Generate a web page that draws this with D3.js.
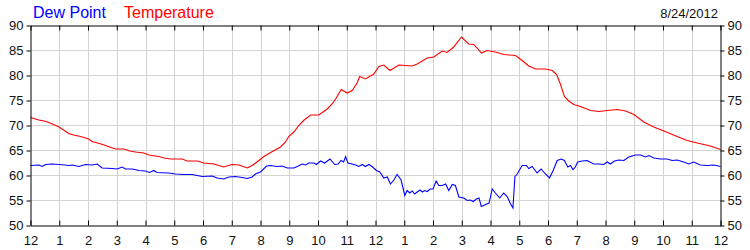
<!DOCTYPE html>
<html><head><meta charset="utf-8">
<script src="https://cdn.jsdelivr.net/npm/d3@7/dist/d3.min.js"></script>
<style>
html,body{margin:0;padding:0;background:#fff;}
svg{display:block;font-family:"Liberation Sans",Arial,sans-serif;}
</style></head>
<body><svg id="c" width="750" height="250"></svg>
<script>
const seriesNames = ["Dew Point", "Temperature"];
const dateLabel = "8/24/2012";
const hourTickLabels = ["12","1","2","3","4","5","6","7","8","9","10","11","12","1","2","3","4","5","6","7","8","9","10","11","12"];
const yTicks = [50,55,60,65,70,75,80,85,90];

const tempHours = [0,0.29,0.55,0.8,0.99,1.15,1.33,1.5,1.74,2.03,2.14,2.4,2.61,2.8,2.96,3.25,3.45,3.65,3.94,4.12,4.46,4.65,4.87,5.28,5.45,5.8,6.03,6.38,6.55,6.72,6.88,7.01,7.25,7.4,7.54,7.71,7.88,8.12,8.35,8.7,8.87,8.98,9.16,9.33,9.5,9.74,10.03,10.32,10.49,10.61,10.81,11.01,11.19,11.36,11.45,11.65,11.94,12.12,12.29,12.5,12.81,13.28,13.45,13.8,14.03,14.32,14.49,14.72,14.99,15.24,15.42,15.69,15.88,16.17,16.46,16.87,17.1,17.33,17.57,17.91,18.15,18.3,18.43,18.57,18.72,18.9,19.13,19.48,19.77,20.06,20.41,20.7,20.99,21.33,21.68,22.03,22.49,22.84,23.19,23.65,24];
const tempValues = [71.6,71.1,70.8,70.2,69.7,69.1,68.4,68.1,67.8,67.3,66.8,66.4,66.0,65.6,65.3,65.3,64.9,64.7,64.5,64.1,63.8,63.5,63.3,63.3,62.9,62.9,62.5,62.3,62.0,61.7,62.0,62.2,62.1,61.8,61.5,62.0,62.7,63.8,64.6,65.7,66.7,67.8,68.7,70.0,71.0,72.1,72.1,73.3,74.3,75.3,77.2,76.5,77.0,78.5,79.8,79.3,80.3,81.8,82.1,81.0,82.1,81.9,82.3,83.5,83.7,84.9,84.6,85.7,87.7,86.3,86.2,84.5,85.0,84.7,84.2,84.0,83.0,81.9,81.3,81.3,81.0,80.2,78.3,75.8,74.9,74.2,73.8,73.0,72.8,73.0,73.2,72.9,72.2,70.7,69.7,68.9,67.8,67.0,66.5,65.9,65.2];

const dewHours = [0,0.29,0.41,0.52,0.75,0.99,1.2,1.33,1.45,1.68,1.91,2.14,2.32,2.49,2.84,3.01,3.19,3.3,3.54,3.77,4.0,4.14,4.29,4.4,4.81,5.04,5.33,5.62,5.97,6.32,6.49,6.72,6.9,7.13,7.36,7.54,7.71,7.82,8.0,8.21,8.35,8.58,8.75,8.93,9.16,9.28,9.45,9.57,9.68,9.86,9.94,10.09,10.23,10.42,10.58,10.7,10.8,10.89,10.96,11.04,11.19,11.31,11.42,11.54,11.65,11.77,11.88,12.03,12.15,12.29,12.41,12.52,12.64,12.75,12.89,13.02,13.1,13.19,13.28,13.36,13.45,13.55,13.63,13.71,13.8,13.9,14.0,14.11,14.2,14.32,14.44,14.55,14.67,14.78,14.9,15.07,15.19,15.3,15.4,15.51,15.6,15.68,15.83,15.95,16.06,16.17,16.32,16.46,16.58,16.7,16.78,16.85,16.93,17.1,17.25,17.33,17.45,17.62,17.76,17.88,18.05,18.18,18.32,18.46,18.57,18.69,18.78,18.87,18.95,19.03,19.19,19.36,19.59,19.77,19.94,20.06,20.17,20.31,20.46,20.64,20.81,21.04,21.22,21.39,21.51,21.68,21.91,22.14,22.32,22.49,22.72,22.9,23.07,23.3,23.54,23.77,24];
const dewValues = [62.0,62.1,61.8,62.2,62.3,62.2,62.1,62.0,62.1,61.8,62.2,62.1,62.3,61.5,61.4,61.3,61.7,61.3,61.3,61.0,60.9,60.6,61.0,60.6,60.5,60.3,60.2,60.2,59.8,59.9,59.5,59.3,59.7,59.8,59.6,59.4,59.7,60.3,60.7,61.9,62.0,61.8,61.9,61.5,61.5,61.8,62.3,62.1,62.5,62.5,62.2,62.9,62.5,63.3,62.2,62.3,63.0,62.7,63.8,62.5,62.3,62.1,61.8,62.2,61.8,62.2,61.8,61.0,60.7,59.5,59.7,58.3,59.1,60.2,59.1,56.0,57.0,56.5,56.9,56.3,56.7,57.1,56.7,57.0,56.8,57.3,57.3,58.9,58.0,58.0,58.3,57.0,58.2,58.0,55.7,55.5,55.0,55.1,54.8,55.3,55.5,53.8,54.2,54.5,57.3,56.5,55.5,56.5,55.8,54.3,53.5,59.8,60.3,62.0,62.0,61.4,61.8,60.5,61.3,60.5,59.5,61.0,63.0,63.3,63.0,61.7,62.0,61.2,61.7,62.7,62.9,63.0,62.3,62.3,62.2,62.7,62.3,62.9,63.1,63.0,63.7,64.1,64.1,63.7,64.0,63.5,63.3,63.3,63.0,63.1,62.7,62.3,62.7,62.1,62.0,62.1,61.8];

const svg = d3.select("#c");
const x = d3.scaleLinear().domain([0,24]).range([30.5,720.5]);
const y = d3.scaleLinear().domain([50,90]).range([225.5,25.5]);
const hourTicks = d3.range(0,25);

// grid
const grid = svg.append("g");
grid.selectAll("line.v").data(hourTicks.slice(1,-1)).join("line")
  .attr("x1",d=>Math.round(x(d))+0.5).attr("x2",d=>Math.round(x(d))+0.5)
  .attr("y1",y(90)).attr("y2",y(50)).attr("stroke","#d3d3d3");
grid.selectAll("line.h").data(yTicks.slice(1,-1)).join("line")
  .attr("y1",d=>y(d)).attr("y2",d=>y(d))
  .attr("x1",x(0)).attr("x2",x(24)).attr("stroke","#d3d3d3");

// lines
const tempData = tempHours.map((h,i)=>[h,tempValues[i]]);
const dewData = dewHours.map((h,i)=>[h,dewValues[i]]);
const line = d3.line().x(d=>x(d[0])).y(d=>y(d[1]));
svg.append("path").datum(dewData).attr("d",line).attr("fill","none").attr("stroke","#0000ff").attr("stroke-width",1.1);
svg.append("path").datum(tempData).attr("d",line).attr("fill","none").attr("stroke","#ff0000").attr("stroke-width",1.1);

// axes
const fmtX = (d)=>hourTickLabels[d];
const axB = d3.axisBottom(x).tickValues(hourTicks).tickFormat(fmtX).tickSizeInner(-5).tickSizeOuter(0).tickPadding(10);
const axT = d3.axisTop(x).tickValues(hourTicks).tickFormat("").tickSizeInner(-5).tickSizeOuter(0);
const axL = d3.axisLeft(y).tickValues(yTicks).tickSizeInner(4).tickSizeOuter(0).tickPadding(3);
const axR = d3.axisRight(y).tickValues(yTicks).tickSizeInner(4).tickSizeOuter(0).tickPadding(3);
function style(g){
  g.select(".domain").attr("stroke","#000");
  g.selectAll(".tick line").attr("stroke","#000");
  g.selectAll("text").attr("fill","#111").style("font-size","13px").style("font-family",'"Liberation Sans",Arial,sans-serif');
}
svg.append("g").attr("transform","translate(0,225.5)").call(axB).call(style);
svg.append("g").attr("transform","translate(0,25.5)").call(axT).call(style);
svg.append("g").attr("transform","translate(30.5,0)").call(axL).call(style);
svg.append("g").attr("transform","translate(720.5,0)").call(axR).call(style);

// legend & date
const legend = svg.append("g").style("font-size","16px");
legend.append("text").attr("x",33).attr("y",18).attr("fill","#0000ff").text(seriesNames[0]);
legend.append("text").attr("x",124).attr("y",18).attr("fill","#ff0000").text(seriesNames[1]);
svg.append("text").attr("x",718).attr("y",18).attr("text-anchor","end").attr("fill","#111").style("font-size","13px").text(dateLabel);
</script></body></html>
